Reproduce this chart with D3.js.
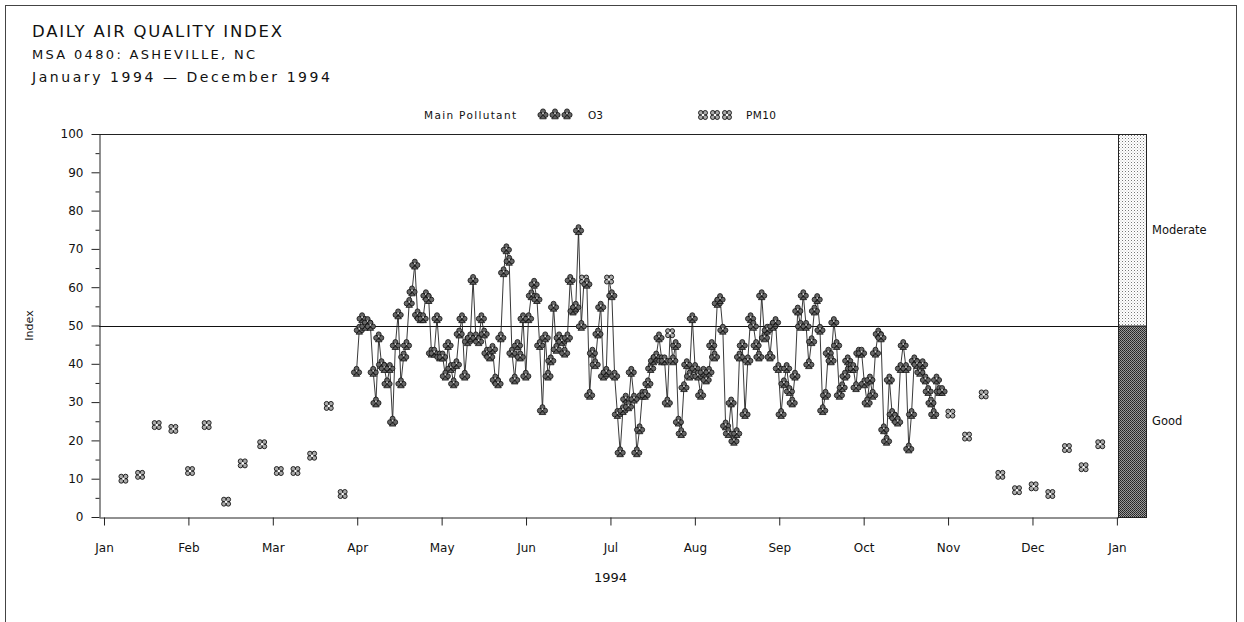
<!DOCTYPE html>
<html>
<head>
<meta charset="utf-8">
<script src="https://cdn.jsdelivr.net/npm/d3@7"></script>
<style>
  html, body { margin: 0; padding: 0; background: #fff; }
  svg { display: block; }
  text { font-family: "DejaVu Sans", sans-serif; fill: #111; }
</style>
</head>
<body>
<svg id="chart" width="1244" height="622"></svg>
<script>
// Month tick labels (ticks are spaced evenly, 1/12 of the year apart)
const monthLabels = ["Jan", "Feb", "Mar", "Apr", "May", "Jun", "Jul", "Aug", "Sep", "Oct", "Nov", "Dec", "Jan"];
const yTickValues = [0, 10, 20, 30, 40, 50, 60, 70, 80, 90, 100];

// PM10 sample days outside the ozone season (day of year, Jan 1 = 0) and index values
const pm10Days = [7, 13, 19, 25, 31, 37, 44, 50, 57, 63, 69, 75, 81, 86,
                  305, 311, 317, 323, 329, 335, 341, 347, 353, 359];
const pm10Values = [10, 11, 24, 23, 12, 24, 4, 14, 19, 12, 12, 16, 29, 6,
                    27, 21, 32, 11, 7, 8, 6, 18, 13, 19];

// Daily index values during the ozone season, starting at day 91 (Apr 2)
const seasonStartDay = 91;
const seasonValues = [
  38, 49, 52, 50, 51, 50, 38, 30, 47, 40,
  39, 35, 39, 25, 45, 53, 35, 42, 45, 56,
  59, 66, 53, 52, 52, 58, 57, 43, 43, 52,
  42, 42, 37, 45, 39, 35, 40, 48, 52, 37,
  46, 47, 62, 47, 46, 52, 48, 43, 42, 44,
  36, 35, 47, 64, 70, 67, 43, 36, 45, 42,
  52, 37, 52, 58, 61, 57, 45, 28, 47, 37,
  41, 55, 44, 47, 46, 43, 47, 62, 54, 55,
  75, 50, 62, 61, 32, 43, 40, 48, 55, 37,
  38, 62, 58, 37, 27, 17, 28, 31, 29, 38,
  31, 17, 23, 32, 32, 35, 39, 41, 42, 47,
  41, 41, 30, 48, 41, 45, 25, 22, 34, 40,
  37, 52, 39, 37, 32, 38, 36, 38, 45, 42,
  56, 57, 49, 24, 22, 30, 20, 22, 42, 45,
  27, 41, 52, 50, 45, 42, 58, 47, 49, 42,
  50, 51, 39, 27, 35, 39, 33, 30, 37, 54,
  50, 58, 50, 40, 46, 54, 57, 49, 28, 32,
  43, 41, 51, 45, 32, 34, 37, 41, 39, 39,
  34, 43, 43, 35, 30, 36, 32, 43, 48, 47,
  23, 20, 36, 27, 26, 25, 39, 45, 39, 18,
  27, 41, 40, 38, 40, 36, 33, 30, 27, 36,
  33, 33
];
// Days within the season whose main pollutant was PM10
const seasonPm10Days = [173, 182, 204];

// Category bands on the right edge
const bandNames = ["Good", "Moderate"];
const bandLimits = [[0, 50], [50, 100]];

const svg = d3.select("#chart");

// ---- Layout ----
const plot = { left: 99, right: 1118, top: 134, bottom: 517 };
const bandWidth = 28;

const x = d3.scaleLinear().domain([-1.8, 365.4]).range([plot.left, plot.right]);
const y = d3.scaleLinear().domain([0, 100]).range([plot.bottom, plot.top]);

// ---- Patterns for the category bands ----
const defs = svg.append("defs");
const pLight = defs.append("pattern").attr("id", "patModerate")
  .attr("width", 3).attr("height", 3).attr("patternUnits", "userSpaceOnUse");
pLight.append("rect").attr("width", 3).attr("height", 3).attr("fill", "#fff");
pLight.append("rect").attr("x", 0).attr("y", 0).attr("width", 1).attr("height", 1).attr("fill", "#777");
pLight.append("rect").attr("x", 1.5).attr("y", 1.5).attr("width", 1).attr("height", 1).attr("fill", "#bbb");

const pDark = defs.append("pattern").attr("id", "patGood")
  .attr("width", 2).attr("height", 2).attr("patternUnits", "userSpaceOnUse");
pDark.append("rect").attr("width", 2).attr("height", 2).attr("fill", "#9a9a9a");
pDark.append("rect").attr("x", 0).attr("y", 0).attr("width", 1).attr("height", 1).attr("fill", "#222");
pDark.append("rect").attr("x", 1).attr("y", 1).attr("width", 1).attr("height", 1).attr("fill", "#333");

// ---- Outer frame ----
svg.append("rect").attr("x", 5.5).attr("y", 5.5).attr("width", 1231).attr("height", 640)
  .attr("fill", "none").attr("stroke", "#444").attr("stroke-width", 1);

// ---- Titles ----
svg.append("text").attr("x", 32).attr("y", 37).attr("font-size", 16.5)
  .attr("textLength", 250).attr("lengthAdjust", "spacing").text("DAILY AIR QUALITY INDEX");
svg.append("text").attr("x", 32).attr("y", 59).attr("font-size", 13)
  .attr("textLength", 223).attr("lengthAdjust", "spacing").text("MSA 0480: ASHEVILLE, NC");
svg.append("text").attr("x", 32).attr("y", 82).attr("font-size", 14)
  .attr("textLength", 298).attr("lengthAdjust", "spacing").text("January 1994  \u2014  December 1994");

// ---- Marker shapes ----
function o3Path() {
  const p = d3.path();
  const r = 2.5;
  [[0, -2.6], [-2.6, 0.9], [2.6, 0.9]].forEach(([cx, cy]) => {
    p.moveTo(cx + r, cy); p.arc(cx, cy, r, 0, 2 * Math.PI);
  });
  p.moveTo(0, 0.5); p.lineTo(-3.3, 4.8); p.lineTo(3.3, 4.8); p.closePath();
  return p.toString();
}
function pm10Path() {
  const p = d3.path();
  const r = 2.3;
  [[-2.2, -2.2], [2.2, -2.2], [2.2, 2.2], [-2.2, 2.2]].forEach(([cx, cy]) => {
    p.moveTo(cx + r, cy); p.arc(cx, cy, r, 0, 2 * Math.PI);
  });
  return p.toString();
}
const O3_D = o3Path();
const PM_D = pm10Path();

function drawO3(g, cx, cy) {
  const m = g.append("g").attr("transform", `translate(${cx},${cy})`);
  m.append("path").attr("d", O3_D).attr("fill", "#666").attr("stroke", "#111").attr("stroke-width", 0.8);
  m.append("circle").attr("cx", 0).attr("cy", -0.6).attr("r", 0.9).attr("fill", "#ddd");
}
function drawPM(g, cx, cy) {
  const m = g.append("g").attr("transform", `translate(${cx},${cy})`);
  m.append("path").attr("d", PM_D).attr("fill", "#aaa").attr("stroke", "#111").attr("stroke-width", 0.9);
  m.append("circle").attr("r", 1.3).attr("fill", "#fff");
}

// ---- Legend ----
const leg = svg.append("g");
leg.append("text").attr("x", 424).attr("y", 119).attr("font-size", 10.5)
  .attr("textLength", 92).attr("lengthAdjust", "spacing").text("Main Pollutant");
[543, 555, 567].forEach(cx => drawO3(leg, cx, 114));
leg.append("text").attr("x", 588).attr("y", 119).attr("font-size", 10.5).text("O3");
[703, 715, 727].forEach(cx => drawPM(leg, cx, 115));
leg.append("text").attr("x", 746).attr("y", 119).attr("font-size", 10.5)
  .attr("textLength", 30).attr("lengthAdjust", "spacing").text("PM10");

// ---- Plot frame top ----
svg.append("line").attr("x1", plot.left).attr("x2", plot.right + bandWidth)
  .attr("y1", plot.top + 0.5).attr("y2", plot.top + 0.5).attr("stroke", "#222");

// ---- Category bands ----
const bands = svg.append("g");
bandLimits.forEach((lim, i) => {
  bands.append("rect")
    .attr("x", plot.right + 0.5).attr("width", bandWidth)
    .attr("y", y(lim[1]) + 0.5).attr("height", y(lim[0]) - y(lim[1]))
    .attr("fill", i === 0 ? "url(#patGood)" : "url(#patModerate)")
    .attr("stroke", "#222").attr("stroke-width", 1);
  bands.append("text")
    .attr("x", plot.right + bandWidth + 6)
    .attr("y", y((lim[0] + lim[1]) / 2) + 4)
    .attr("font-size", 11.5).text(bandNames[i]);
});

// ---- 50 threshold line ----
svg.append("line").attr("x1", plot.left).attr("x2", plot.right)
  .attr("y1", Math.round(y(50)) + 0.5).attr("y2", Math.round(y(50)) + 0.5)
  .attr("stroke", "#111").attr("stroke-width", 1.2);

// ---- Axes ----
const yAxis = d3.axisLeft(y).tickValues(yTickValues).tickSize(8).tickPadding(8).tickSizeOuter(0);
const yAxisMinor = d3.axisLeft(y).tickValues(d3.range(5, 100, 10)).tickSize(4).tickFormat("").tickSizeOuter(0);
const gy = svg.append("g").attr("transform", `translate(${plot.left + 0.5},0)`).call(yAxis);
svg.append("g").attr("transform", `translate(${plot.left + 0.5},0)`).call(yAxisMinor).select(".domain").remove();
gy.selectAll("text").attr("font-size", 12).style("font-family", "DejaVu Sans, sans-serif").attr("fill", "#111");

const xTicks = d3.range(13).map(i => i * 365 / 12);
const xAxis = d3.axisBottom(x).tickValues(xTicks).tickSize(8).tickPadding(18).tickSizeOuter(0)
  .tickFormat((d, i) => monthLabels[i]);
const gx = svg.append("g").attr("transform", `translate(0,${plot.bottom + 0.5})`).call(xAxis);
gx.selectAll("text").attr("font-size", 12).style("font-family", "DejaVu Sans, sans-serif").attr("fill", "#111");
svg.selectAll(".domain, .tick line").attr("stroke", "#222");

// Axis titles
svg.append("text").attr("transform", `translate(33,${y(50)}) rotate(-90)`)
  .attr("text-anchor", "middle").attr("font-size", 11).text("Index");
svg.append("text").attr("x", x(182.5)).attr("y", 582).attr("text-anchor", "middle")
  .attr("font-size", 13).text("1994");

// ---- Season line ----
const seasonPoints = seasonValues.map((v, i) => ({ day: seasonStartDay + i, value: v }));
const line = d3.line().x(d => x(d.day)).y(d => y(d.value));
svg.append("path").datum(seasonPoints).attr("d", line)
  .attr("fill", "none").attr("stroke", "#222").attr("stroke-width", 0.9);

// ---- Markers ----
const marks = svg.append("g");
seasonPoints.forEach(d => {
  if (seasonPm10Days.includes(d.day)) drawPM(marks, x(d.day), y(d.value));
  else drawO3(marks, x(d.day), y(d.value));
});
pm10Days.forEach((dday, i) => drawPM(marks, x(dday), y(pm10Values[i])));
</script>
</body>
</html>
